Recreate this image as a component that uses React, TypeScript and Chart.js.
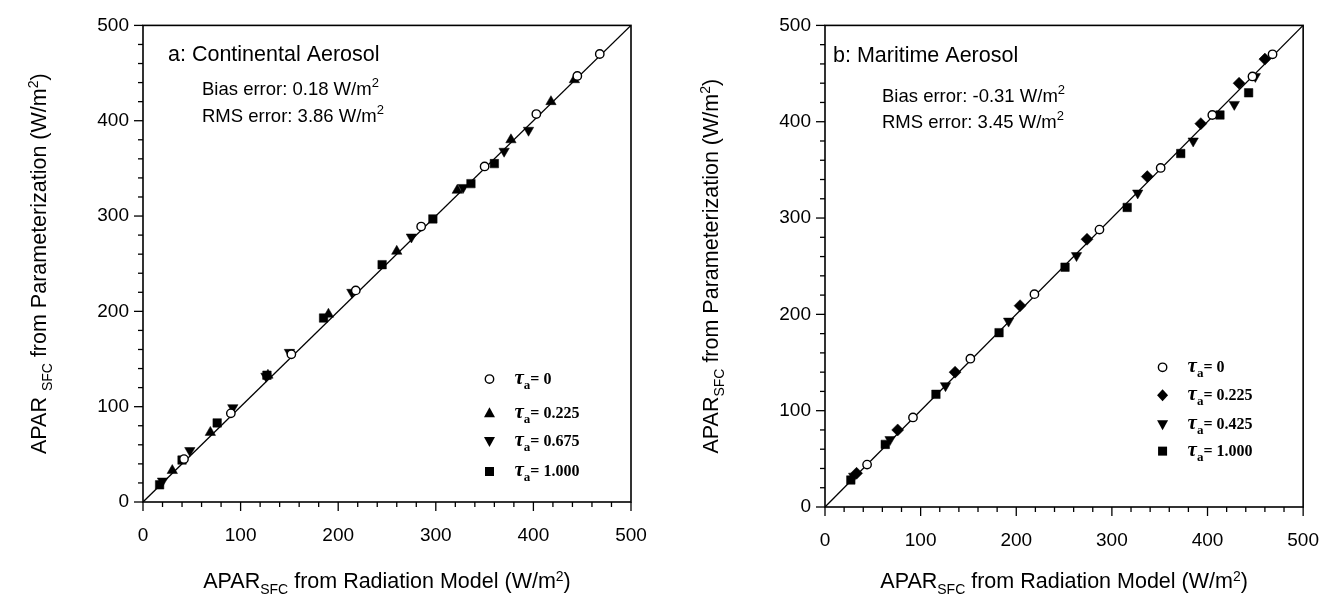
import React, { useEffect, useRef } from "react";
import { Chart, registerables } from "chart.js";
Chart.register(...registerables);

// ---------- data ----------
const axisTicks = [0, 100, 200, 300, 400, 500];
const lineX = [0, 500];
const lineY = [0, 500];

// Panel a: Continental aerosol
const contTau0X = [42, 90, 152, 218, 285, 350, 403, 445, 468];
const contTau0Y = [45, 93, 155, 222, 289, 352, 407, 447, 470];
const contTau1X = [30, 69, 128, 190, 260, 322, 377, 418, 442];
const contTau1Y = [33, 73, 133, 197, 263, 327, 380, 420, 443];
const contTau2X = [20, 48, 92, 126, 150, 214, 275, 328, 370, 395];
const contTau2Y = [22, 54, 99, 132, 157, 220, 278, 330, 368, 390];
const contTau3X = [17, 40, 76, 127, 185, 245, 297, 336, 360];
const contTau3Y = [18, 44, 83, 133, 193, 249, 297, 334, 355];
const contLegend = ["0", "0.225", "0.675", "1.000"];

// Panel b: Maritime aerosol
const marTau0X = [44, 92, 152, 219, 287, 351, 405, 447, 468];
const marTau0Y = [44, 93, 154, 221, 288, 352, 407, 447, 470];
const marTau1X = [33, 76, 136, 204, 274, 337, 393, 433, 460];
const marTau1Y = [35, 80, 140, 209, 278, 343, 398, 440, 465];
const marTau2X = [30, 68, 126, 192, 263, 327, 385, 428, 450];
const marTau2Y = [32, 70, 126, 193, 261, 326, 380, 418, 447];
const marTau3X = [27, 63, 116, 182, 251, 316, 372, 413, 443];
const marTau3Y = [28, 65, 117, 181, 249, 311, 367, 407, 430];
const marLegend = ["0", "0.225", "0.425", "1.000"];

const SANS = "'Liberation Sans', Arial, Helvetica, sans-serif";
const SERIF = "'Liberation Serif', 'Times New Roman', serif";

const zip = (xs: number[], ys: number[]) => xs.map((x, i) => ({ x, y: ys[i] }));

type Part = { t: string; size: number; dy?: number; font?: string; style?: string };

function richWidth(ctx: CanvasRenderingContext2D, parts: Part[]) {
  let w = 0;
  for (const p of parts) {
    ctx.font = `${p.style || ""} ${p.size}px ${p.font || SANS}`;
    w += ctx.measureText(p.t).width;
  }
  return w;
}
function drawRich(ctx: CanvasRenderingContext2D, parts: Part[], x: number, y: number, align: "left" | "center") {
  let cx = align === "center" ? x - richWidth(ctx, parts) / 2 : x;
  ctx.textAlign = "left";
  ctx.textBaseline = "alphabetic";
  for (const p of parts) {
    ctx.font = `${p.style || ""} ${p.size}px ${p.font || SANS}`;
    ctx.fillText(p.t, cx, y + (p.dy || 0));
    cx += ctx.measureText(p.t).width;
  }
}

function drawMarker(ctx: CanvasRenderingContext2D, kind: string, x: number, y: number) {
  ctx.beginPath();
  if (kind === "circle") {
    ctx.arc(x, y, 4.2, 0, Math.PI * 2);
    ctx.fillStyle = "#fff";
    ctx.fill();
    ctx.lineWidth = 1.4;
    ctx.strokeStyle = "#000";
    ctx.stroke();
    return;
  }
  if (kind === "up") {
    ctx.moveTo(x, y - 6);
    ctx.lineTo(x + 5.5, y + 4);
    ctx.lineTo(x - 5.5, y + 4);
  } else if (kind === "down") {
    ctx.moveTo(x, y + 6);
    ctx.lineTo(x + 5.5, y - 4);
    ctx.lineTo(x - 5.5, y - 4);
  } else if (kind === "diamond") {
    ctx.moveTo(x, y - 6);
    ctx.lineTo(x + 5.5, y);
    ctx.lineTo(x, y + 6);
    ctx.lineTo(x - 5.5, y);
  } else {
    ctx.rect(x - 4.5, y - 4.5, 9, 9);
  }
  ctx.closePath();
  ctx.fillStyle = "#000";
  ctx.fill();
}

type PanelCfg = {
  series: { x: number[]; y: number[]; style: string; rot: number; fill: string; radius: number }[];
  legendKinds: string[];
  legendLabels: string[];
  legendX: number;
  legendY: number[];
  title: string;
  titlePos: [number, number];
  bias: string;
  rms: string;
  statsPos: [number, number, number];
  yTitleSpace: boolean;
  yTitleX: number;
  padding: { left: number; right: number; top: number; bottom: number };
};

function Panel({ cfg, width, left }: { cfg: PanelCfg; width: number; left: number }) {
  const ref = useRef<HTMLCanvasElement | null>(null);
  useEffect(() => {
    if (!ref.current) return;
    const deco = {
      id: "deco",
      afterDraw(chart: any) {
        const { ctx, chartArea: ca, scales } = chart;
        const xs = scales.x, ys = scales.y;
        ctx.save();
        ctx.strokeStyle = "#000";
        ctx.lineWidth = 1.6;
        ctx.strokeRect(ca.left, ca.top, ca.right - ca.left, ca.bottom - ca.top);
        ctx.lineWidth = 1.3;
        for (let v = 0; v <= 500; v += 20) {
          const len = v % 100 === 0 ? 9 : 5;
          const px = xs.getPixelForValue(v);
          ctx.beginPath();
          ctx.moveTo(px, ca.bottom);
          ctx.lineTo(px, ca.bottom + len);
          ctx.stroke();
          const py = ys.getPixelForValue(v);
          ctx.beginPath();
          ctx.moveTo(ca.left, py);
          ctx.lineTo(ca.left - len, py);
          ctx.stroke();
        }
        ctx.fillStyle = "#000";
        // panel annotations
        ctx.font = `21.5px ${SANS}`;
        ctx.textAlign = "left";
        ctx.textBaseline = "alphabetic";
        ctx.fillText(cfg.title, cfg.titlePos[0], cfg.titlePos[1]);
        const [sx, sy1, sy2] = cfg.statsPos;
        drawRich(ctx, [{ t: cfg.bias + " W/m", size: 18.5 }, { t: "2", size: 13, dy: -8 }], sx, sy1, "left");
        drawRich(ctx, [{ t: cfg.rms + " W/m", size: 18.5 }, { t: "2", size: 13, dy: -8 }], sx, sy2, "left");
        // legend
        const lx = xs.getPixelForValue(cfg.legendX);
        cfg.legendKinds.forEach((k, i) => {
          const ly = ys.getPixelForValue(cfg.legendY[i]);
          drawMarker(ctx, k, lx, ly);
          ctx.fillStyle = "#000";
          drawRich(
            ctx,
            [
              { t: "τ", size: 21, font: SERIF, style: "italic bold" },
              { t: "a", size: 13, font: SERIF, style: "bold", dy: 5 },
              { t: "= " + cfg.legendLabels[i], size: 16, font: SERIF, style: "bold" },
            ],
            lx + 25,
            ly + 5,
            "left"
          );
        });
        // x title
        const cxm = (ca.left + ca.right) / 2;
        drawRich(
          ctx,
          [
            { t: "APAR", size: 21.5 },
            { t: "SFC", size: 14, dy: 6 },
            { t: " from Radiation Model (W/m", size: 21.5 },
            { t: "2", size: 14, dy: -7 },
            { t: ")", size: 21.5 },
          ],
          cxm,
          588,
          "center"
        );
        // y title
        const cym = (ca.top + ca.bottom) / 2;
        ctx.save();
        ctx.translate(cfg.yTitleX, cym);
        ctx.rotate(-Math.PI / 2);
        drawRich(
          ctx,
          [
            { t: cfg.yTitleSpace ? "APAR " : "APAR", size: 21.5 },
            { t: "SFC", size: 14, dy: 6 },
            { t: " from Parameterization (W/m", size: 21.5 },
            { t: "2", size: 14, dy: -8 },
            { t: ")", size: 21.5 },
          ],
          0,
          8,
          "center"
        );
        ctx.restore();
        ctx.restore();
      },
    };
    const datasets: any[] = [
      {
        type: "line",
        data: zip(lineX, lineY),
        borderColor: "#000",
        borderWidth: 1.3,
        pointRadius: 0,
        showLine: true,
        order: 10,
      },
      ...cfg.series.map((s, i) => ({
        type: "scatter",
        data: zip(s.x, s.y),
        pointStyle: s.style,
        rotation: s.rot,
        pointRotation: s.rot,
        pointRadius: s.radius,
        pointBackgroundColor: s.fill,
        pointBorderColor: "#000",
        pointBorderWidth: s.fill === "#fff" ? 1.4 : 0.5,
        order: i,
      })),
    ];
    const tickFont = { family: SANS, size: 19 };
    const chart = new Chart(ref.current, {
      type: "scatter",
      data: { datasets },
      options: {
        animation: false,
        responsive: false,
        maintainAspectRatio: false,
        layout: { padding: cfg.padding },
        plugins: { legend: { display: false }, tooltip: { enabled: false } },
        scales: {
          x: {
            type: "linear",
            min: 0,
            max: 500,
            afterBuildTicks: (s: any) => {
              s.ticks = axisTicks.map((v) => ({ value: v }));
            },
            afterFit: (s: any) => {
              s.height = 50;
            },
            grid: { display: false, drawTicks: false },
            border: { display: false },
            ticks: { color: "#000", font: tickFont, padding: 22, maxRotation: 0 },
          },
          y: {
            type: "linear",
            min: 0,
            max: 500,
            afterBuildTicks: (s: any) => {
              s.ticks = axisTicks.map((v) => ({ value: v }));
            },
            afterFit: (s: any) => {
              s.width = 60;
            },
            grid: { display: false, drawTicks: false },
            border: { display: false },
            ticks: { color: "#000", font: tickFont, padding: 14 },
          },
        },
      },
      plugins: [deco],
    } as any);
    return () => chart.destroy();
  }, []);
  return (
    <canvas
      ref={ref}
      width={width}
      height={597}
      style={{ position: "absolute", left, top: 0, width, height: 597 }}
    />
  );
}

const panelA: PanelCfg = {
  series: [
    { x: contTau0X, y: contTau0Y, style: "circle", rot: 0, fill: "#fff", radius: 4.2 },
    { x: contTau1X, y: contTau1Y, style: "triangle", rot: 0, fill: "#000", radius: 6 },
    { x: contTau2X, y: contTau2Y, style: "triangle", rot: 180, fill: "#000", radius: 6 },
    { x: contTau3X, y: contTau3Y, style: "rect", rot: 0, fill: "#000", radius: 6 },
  ],
  legendKinds: ["circle", "up", "down", "square"],
  legendLabels: contLegend,
  legendX: 355,
  legendY: [129, 93, 64, 32],
  title: "a: Continental Aerosol",
  titlePos: [168, 61],
  bias: "Bias error: 0.18",
  rms: "RMS error: 3.86",
  statsPos: [202, 95, 122],
  yTitleSpace: true,
  yTitleX: 38,
  padding: { left: 83, right: 39, top: 19, bottom: 45 },
};

const panelB: PanelCfg = {
  series: [
    { x: marTau0X, y: marTau0Y, style: "circle", rot: 0, fill: "#fff", radius: 4.2 },
    { x: marTau1X, y: marTau1Y, style: "rectRot", rot: 0, fill: "#000", radius: 6 },
    { x: marTau2X, y: marTau2Y, style: "triangle", rot: 180, fill: "#000", radius: 6 },
    { x: marTau3X, y: marTau3Y, style: "rect", rot: 0, fill: "#000", radius: 6 },
  ],
  legendKinds: ["circle", "diamond", "down", "square"],
  legendLabels: marLegend,
  legendX: 353,
  legendY: [145, 116, 86, 58],
  title: "b: Maritime Aerosol",
  titlePos: [163, 62],
  bias: "Bias error: -0.31",
  rms: "RMS error: 3.45",
  statsPos: [212, 102, 128],
  yTitleSpace: false,
  yTitleX: 40,
  padding: { left: 95, right: 29, top: 23, bottom: 40 },
};

export default function App() {
  return (
    <div style={{ position: "absolute", left: 0, top: 0, width: 1341, height: 597, background: "#fff" }}>
      <Panel cfg={panelA} width={670} left={0} />
      <Panel cfg={panelB} width={671} left={670} />
    </div>
  );
}
